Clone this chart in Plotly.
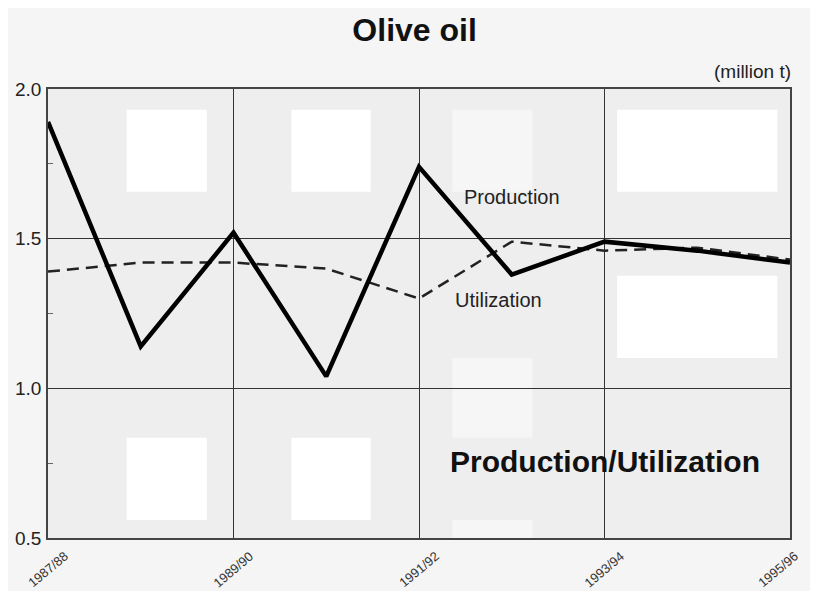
import plotly.graph_objects as go

seasons = ["1987/88", "1988/89", "1989/90", "1990/91", "1991/92",
           "1992/93", "1993/94", "1994/95", "1995/96"]
production = [1.89, 1.14, 1.52, 1.04, 1.74, 1.38, 1.49, 1.46, 1.42]
utilization = [1.39, 1.42, 1.42, 1.40, 1.30, 1.49, 1.46, 1.47, 1.43]
tick_labels = ["1987/88", "1989/90", "1991/92", "1993/94", "1995/96"]
y_ticks = [0.5, 1.0, 1.5, 2.0]

fig = go.Figure()

fig.add_trace(go.Scatter(x=seasons, y=utilization, mode="lines",
                         line=dict(color="#222222", width=2.5, dash="12px,7px"),
                         name="Utilization"))
fig.add_trace(go.Scatter(x=seasons, y=production, mode="lines",
                         line=dict(color="#000000", width=4.5),
                         name="Production"))

# light patches of the scanned page behind the plot
patches = [(0.106, 0.214, 0.771, 0.954, "#ffffff"),
           (0.328, 0.435, 0.771, 0.954, "#ffffff"),
           (0.767, 0.983, 0.771, 0.954, "#ffffff"),
           (0.767, 0.983, 0.401, 0.584, "#ffffff"),
           (0.106, 0.214, 0.040, 0.223, "#ffffff"),
           (0.328, 0.435, 0.040, 0.223, "#ffffff"),
           (0.545, 0.653, 0.771, 0.954, "#f6f6f6"),
           (0.545, 0.653, 0.223, 0.401, "#f6f6f6"),
           (0.545, 0.653, 0.0, 0.040, "#f6f6f6")]
for x0, x1, y0, y1, c in patches:
    fig.add_shape(type="rect", xref="x domain", yref="y domain",
                  x0=x0, x1=x1, y0=y0, y1=y1, fillcolor=c,
                  line_width=0, layer="below")

fig.update_layout(
    width=802, height=583,
    margin=dict(l=40, r=20, t=81, b=53),
    paper_bgcolor="#f5f5f5",
    plot_bgcolor="#eeeeee",
    showlegend=False,
    font=dict(family="Liberation Sans, Arial, sans-serif", color="#111111"),
    title=dict(text="<b>Olive oil</b>", x=0.507, xanchor="center",
               y=0.962, yanchor="middle", font=dict(size=32, color="#111111")),
)

fig.update_xaxes(
    type="category", range=[0, 8],
    tickmode="array", tickvals=tick_labels, showticklabels=False,
    showgrid=True, gridcolor="#333333", gridwidth=1.2,
    showline=True, linecolor="#444444", linewidth=1.5, mirror=True,
    ticks="", zeroline=False, automargin=False,
)
fig.update_yaxes(
    range=[0.5, 2.0], tickvals=y_ticks, ticktext=["0.5", "1.0", "1.5", "2.0"],
    tickfont=dict(size=19, color="#222222"), ticklabelstandoff=1,
    showgrid=True, gridcolor="#333333", gridwidth=1.2,
    showline=True, linecolor="#444444", linewidth=1.5, mirror=True,
    ticks="", zeroline=False, automargin=False,
    minor=dict(tickvals=[0.75, 1.25, 1.75], ticks="inside", ticklen=5,
               tickcolor="#666666", showgrid=False),
)

for i, lab in enumerate(tick_labels):
    fig.add_annotation(text=lab, xref="x", yref="paper", x=lab, y=-0.071,
                       xanchor="center", yanchor="middle", textangle=-40,
                       xshift=-12 if i == len(tick_labels) - 1 else 0,
                       showarrow=False, font=dict(size=13, color="#333333"))

fig.add_annotation(text="(million t)", xref="paper", yref="paper",
                   x=1.004, y=1.038, xanchor="right", yanchor="middle",
                   showarrow=False, font=dict(size=19, color="#222222"))
fig.add_annotation(text="Production", xref="x", yref="y",
                   x=5.0, y=1.64, showarrow=False,
                   font=dict(size=20, color="#222222"))
fig.add_annotation(text="Utilization", xref="x", yref="y",
                   x=4.86, y=1.296, showarrow=False,
                   font=dict(size=20, color="#222222"))
fig.add_annotation(text="<b>Production/Utilization</b>", xref="x", yref="y",
                   x=6.0, y=0.754, showarrow=False,
                   font=dict(size=30, color="#111111"))

fig.write_html("out.html")
